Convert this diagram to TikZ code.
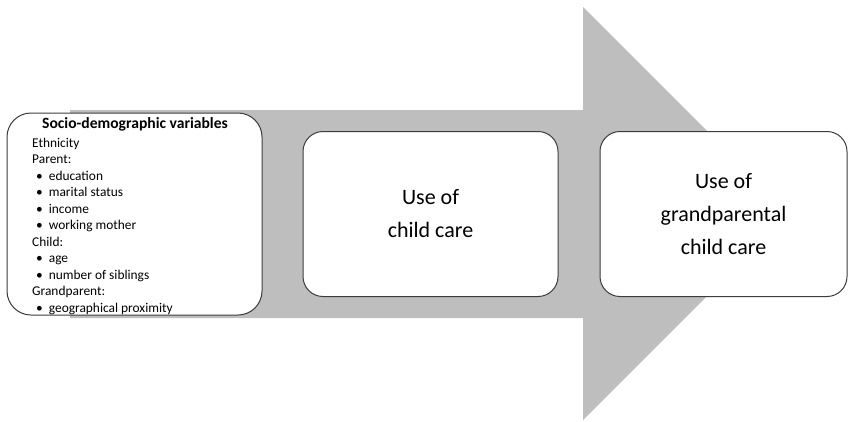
\documentclass[tikz,border=0pt]{standalone}
\usepackage{fontspec}
\setmainfont{Carlito}
\usetikzlibrary{positioning}
\definecolor{arrowgray}{HTML}{BEBEBE}
\definecolor{boxline}{HTML}{3C3C3C}
\tikzset{
  stage/.style={draw=boxline,line width=1pt,fill=white,rounded corners=24pt,inner sep=0pt},
  bigtext/.style={font=\fontsize{22}{33}\selectfont,align=center},
  smalltext/.style={font=\fontsize{13.4}{16.5}\selectfont,align=left,inner sep=0pt}
}
\newcommand{\itm}{\hspace*{4pt}\textbullet\hspace{6pt}}
\begin{document}
\begin{tikzpicture}[x=1pt,y=-1pt,line join=round]
  \useasboundingbox (0,0) rectangle (848,421);
  \def\xl{70} \def\xh{583} \def\xtip{789.5}
  \def\yst{110} \def\ysb{318} \def\yht{7} \def\yhb{420} \def\ym{213.5}
  % big arrow in the background
  \fill[arrowgray] (\xl,\yst)--(\xh,\yst)--(\xh,\yht)--(\xtip,\ym)--(\xh,\yhb)--(\xh,\ysb)--(\xl,\ysb)--cycle;
  % the three stages
  \node[stage,minimum width=255pt,minimum height=202pt] (socio) at (134.5,214) {};
  \node[stage,minimum width=255pt,minimum height=165pt,rounded corners=20pt] (care) at (430.5,214) {};
  \node[stage,minimum width=247pt,minimum height=165pt,rounded corners=20pt] (grand) at (723.5,214) {};
  \node[bigtext] at (care) (caretext) {Use of\\child care};
  \node[bigtext] at (grand) (grandtext) {Use of\\grandparental\\child care};
  % variables (anchored at the baseline of the last line)
  \node[font=\bfseries\fontsize{15.6}{18}\selectfont,anchor=base,inner sep=0pt] (title) at (135,128) {Socio-demographic variables};
  \node[smalltext,anchor=base west] (vars) at (32,312) {Ethnicity\\Parent:\\\itm education\\\itm marital status\\\itm income\\\itm working mother\\Child:\\\itm age\\\itm number of siblings\\Grandparent:\\\itm geographical proximity};
\end{tikzpicture}
\end{document}
